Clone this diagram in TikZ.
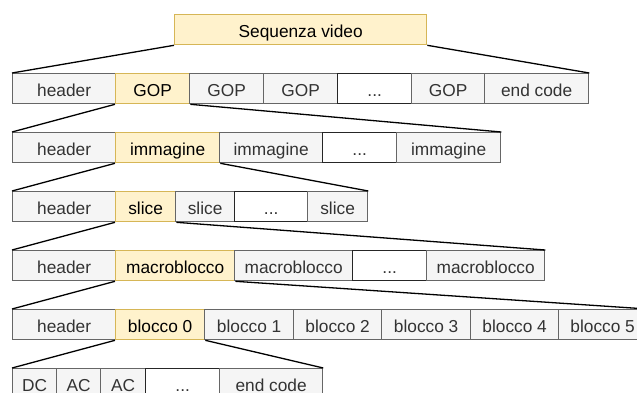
\documentclass[tikz,border=0pt]{standalone}
\usepackage{fontspec}
\setmainfont{Liberation Sans}
\definecolor{greyfill}{HTML}{F5F5F5}
\definecolor{greyline}{HTML}{666666}
\definecolor{greytext}{HTML}{333333}
\definecolor{yelfill}{HTML}{FFF2CC}
\definecolor{yelline}{HTML}{D6B656}
\tikzset{
  cellbase/.style={rectangle, anchor=north west, minimum height=30pt, inner sep=0pt,
    text height=15pt, text depth=0pt,
    line width=1.3pt, font=\fontsize{17.3}{19}\selectfont},
  gcell/.style={cellbase, draw=greyline, fill=greyfill, text=greytext},
  ycell/.style={cellbase, draw=yelline, fill=yelfill, text=black},
  dcell/.style={cellbase, draw=black!85, fill=white, text=greytext},
  link/.style={draw=black, line width=1.3pt}
}
\begin{document}
\begin{tikzpicture}[x=1pt, y=1pt]
\useasboundingbox (0,0) rectangle (637,-392);
\clip (0,0) rectangle (637,-392);

% top level
\node[ycell, minimum width=252pt] (seq) at (174,-14) {Sequenza video};

% sequence level
\node[gcell, minimum width=103pt] (a0) at (12,-73) {header};
\node[ycell, minimum width=74pt]  (a1) at (115,-73) {GOP};
\node[gcell, minimum width=74pt]  (a2) at (189,-73) {GOP};
\node[gcell, minimum width=74pt]  (a3) at (263,-73) {GOP};
\node[dcell, minimum width=74pt]  (a4) at (337,-73) {.{}.{}.};
\node[gcell, minimum width=73pt]  (a5) at (411,-73) {GOP};
\node[gcell, minimum width=104pt] (a6) at (484,-73) {end code};

% GOP level
\node[gcell, minimum width=103pt] (b0) at (12,-132) {header};
\node[ycell, minimum width=104pt] (b1) at (115,-132) {immagine};
\node[gcell, minimum width=103pt] (b2) at (219,-132) {immagine};
\node[dcell, minimum width=74pt]  (b3) at (322,-132) {.{}.{}.};
\node[gcell, minimum width=104pt] (b4) at (396,-132) {immagine};

% picture level
\node[gcell, minimum width=103pt] (c0) at (12,-191) {header};
\node[ycell, minimum width=60pt]  (c1) at (115,-191) {slice};
\node[gcell, minimum width=59pt]  (c2) at (175,-191) {slice};
\node[dcell, minimum width=73pt]  (c3) at (234,-191) {.{}.{}.};
\node[gcell, minimum width=60pt]  (c4) at (307,-191) {slice};

% slice level
\node[gcell, minimum width=103pt] (d0) at (12,-250) {header};
\node[ycell, minimum width=119pt] (d1) at (115,-250) {macroblocco};
\node[gcell, minimum width=118pt] (d2) at (234,-250) {macroblocco};
\node[dcell, minimum width=74pt]  (d3) at (352,-250) {.{}.{}.};
\node[gcell, minimum width=118pt] (d4) at (426,-250) {macroblocco};

% macroblock level
\node[gcell, minimum width=103pt] (e0) at (12,-309) {header};
\node[ycell, minimum width=89pt]  (e1) at (115,-309) {blocco 0};
\node[gcell, minimum width=89pt]  (e2) at (204,-309) {blocco 1};
\node[gcell, minimum width=88pt]  (e3) at (293,-309) {blocco 2};
\node[gcell, minimum width=89pt]  (e4) at (381,-309) {blocco 3};
\node[gcell, minimum width=88pt]  (e5) at (470,-309) {blocco 4};
\node[gcell, minimum width=88pt]  (e6) at (558,-309) {blocco 5};

% block level
\node[gcell, minimum width=44pt]  (f0) at (12,-368) {DC};
\node[gcell, minimum width=44pt]  (f1) at (56,-368) {AC};
\node[gcell, minimum width=45pt]  (f2) at (100,-368) {AC};
\node[dcell, minimum width=74pt]  (f3) at (145,-368) {.{}.{}.};
\node[gcell, minimum width=103pt] (f4) at (219,-368) {end code};

% expansion lines
\draw[link] (seq.south west) -- (a0.north west);
\draw[link] (seq.south east) -- (a6.north east);
\draw[link] (a1.south west) -- (b0.north west);
\draw[link] (a1.south east) -- (b4.north east);
\draw[link] (b1.south west) -- (c0.north west);
\draw[link] (b1.south east) -- (c4.north east);
\draw[link] (c1.south west) -- (d0.north west);
\draw[link] (c1.south east) -- (d4.north east);
\draw[link] (d1.south west) -- (e0.north west);
\draw[link] (d1.south east) -- (e6.north east);
\draw[link] (e1.south west) -- (f0.north west);
\draw[link] (e1.south east) -- (f4.north east);
\end{tikzpicture}
\end{document}
